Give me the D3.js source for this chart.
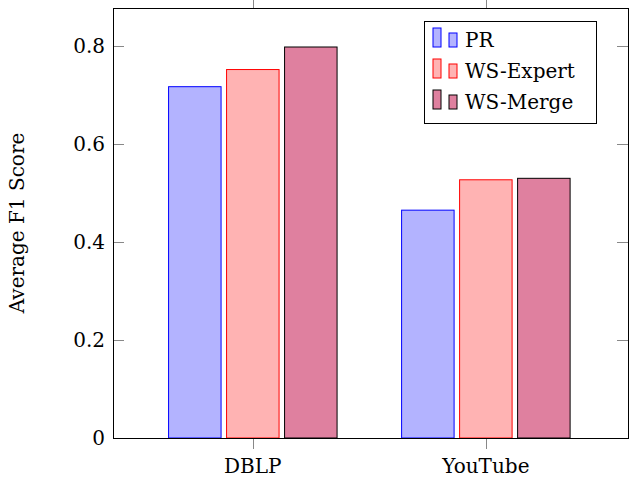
<!DOCTYPE html>
<html>
<head>
<meta charset="utf-8">
<script src="https://cdn.jsdelivr.net/npm/d3@7"></script>
<style>
  body { margin: 0; background: #fff; }
  text { font-family: "DejaVu Serif", serif; fill: #000; }
</style>
</head>
<body>
<svg id="chart" width="629" height="478"></svg>
<script>
// data
var categories = ["DBLP", "YouTube"];
var seriesNames = ["PR", "WS-Expert", "WS-Merge"];
var prValues = [0.717, 0.465];
var expertValues = [0.752, 0.527];
var mergeValues = [0.798, 0.530];
var yTicks = [0, 0.2, 0.4, 0.6, 0.8];

var series = [
    {name: seriesNames[0], values: prValues, fill: "#b3b3ff", stroke: "#0000ff"},
    {name: seriesNames[1], values: expertValues, fill: "#ffb3b3", stroke: "#ff0000"},
    {name: seriesNames[2], values: mergeValues, fill: "#df809f", stroke: "#000000"}
];

var box = {left: 113, right: 628, top: 8, bottom: 438};
var barWidth = 52.5, barShift = 58, tickLen = 11;
var fontSize = "20px";

var svg = d3.select("#chart");

var x = d3.scaleLinear().domain([-0.6, 1.61]).range([box.left, box.right]);
var y = d3.scaleLinear().domain([0, 0.8776]).range([box.bottom, box.top]);

// bars
series.forEach(function(s, si) {
    svg.append("g").selectAll("rect")
        .data(s.values)
        .enter()
        .append("rect")
        .attr("x", function(d, i) { return x(i) + (si - 1) * barShift - barWidth / 2; })
        .attr("y", function(d) { return y(d); })
        .attr("width", barWidth)
        .attr("height", function(d) { return y(0) - y(d); })
        .attr("fill", s.fill)
        .attr("stroke", s.stroke)
        .attr("stroke-width", 1);
});

// ticks (grey), y inside both sides, x outside top and bottom
var ticks = svg.append("g").attr("stroke", "#888").attr("stroke-width", 1);
yTicks.slice(1).forEach(function(t) {
    var yy = Math.round(y(t)) + 0.5;
    ticks.append("line").attr("x1", box.left).attr("x2", box.left + tickLen).attr("y1", yy).attr("y2", yy);
    ticks.append("line").attr("x1", box.right - tickLen).attr("x2", box.right).attr("y1", yy).attr("y2", yy);
});
categories.forEach(function(c, i) {
    var xx = Math.round(x(i)) + 0.5;
    ticks.append("line").attr("x1", xx).attr("x2", xx).attr("y1", box.bottom).attr("y2", box.bottom + tickLen);
    ticks.append("line").attr("x1", xx).attr("x2", xx).attr("y1", box.top - tickLen).attr("y2", box.top);
});

// axis box
svg.append("rect")
    .attr("x", box.left + 0.5).attr("y", box.top + 0.5)
    .attr("width", box.right - box.left).attr("height", box.bottom - box.top)
    .attr("fill", "none").attr("stroke", "#000").attr("stroke-width", 1);

// tick labels
svg.append("g").selectAll("text")
    .data(yTicks)
    .enter()
    .append("text")
    .attr("x", box.left - 8)
    .attr("y", function(d) { return y(d); })
    .attr("dy", "0.36em")
    .attr("text-anchor", "end")
    .style("font-size", fontSize)
    .text(function(d) { return d === 0 ? "0" : d3.format(".1f")(d); });

svg.append("g").selectAll("text")
    .data(categories)
    .enter()
    .append("text")
    .attr("x", function(d, i) { return x(i); })
    .attr("y", 473)
    .attr("text-anchor", "middle")
    .style("font-size", fontSize)
    .text(function(d) { return d; });

svg.append("text")
    .attr("transform", "translate(24," + ((box.top + box.bottom) / 2) + ") rotate(-90)")
    .attr("text-anchor", "middle")
    .style("font-size", fontSize)
    .text("Average F1 Score");

// legend
var legend = svg.append("g").attr("transform", "translate(424,21)");
legend.append("rect")
    .attr("x", 0.5).attr("y", 0.5).attr("width", 172).attr("height", 102)
    .attr("fill", "#fff").attr("stroke", "#000").attr("stroke-width", 1);

var entry = legend.selectAll("g.entry")
    .data(series)
    .enter()
    .append("g")
    .attr("class", "entry")
    .attr("transform", function(d, i) { return "translate(0," + (26 + i * 31) + ")"; });

entry.append("rect")
    .attr("x", 9).attr("y", -19).attr("width", 8).attr("height", 19)
    .attr("fill", function(d) { return d.fill; })
    .attr("stroke", function(d) { return d.stroke; });
entry.append("rect")
    .attr("x", 25).attr("y", -14).attr("width", 8).attr("height", 14)
    .attr("fill", function(d) { return d.fill; })
    .attr("stroke", function(d) { return d.stroke; });
entry.append("text")
    .attr("x", 41).attr("y", 0)
    .style("font-size", fontSize)
    .text(function(d) { return d.name; });
</script>
</body>
</html>
